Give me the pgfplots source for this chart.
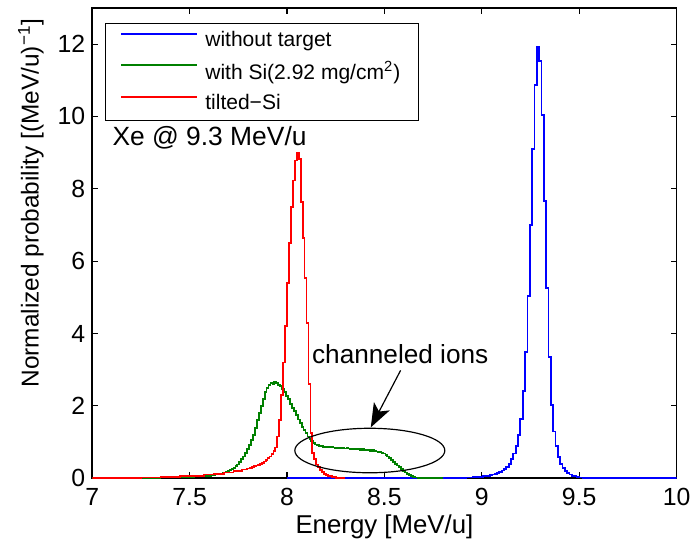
\documentclass[border=0pt]{standalone}
\usepackage{fontspec}
\setmainfont{Liberation Sans}
\usepackage{pgfplots}
\pgfplotsset{compat=1.18}
\usetikzlibrary{arrows.meta}
\definecolor{mblue}{rgb}{0,0,1}
\definecolor{mgreen}{rgb}{0,0.5,0}
\definecolor{mred}{rgb}{1,0,0}
\begin{document}
\begin{tikzpicture}
\begin{axis}[
  scale only axis, width=294.5pt, height=237pt,
  xmin=7, xmax=10, ymin=0, ymax=13,
  xtick={7,7.5,8,8.5,9,9.5,10}, ytick={0,2,4,6,8,10,12},
  tick align=inside, major tick length=3pt,
  axis line style={line width=0.8pt},
  every tick/.style={black, line width=0.6pt},
  /pgf/number format/assume math mode=true,
  ticklabel style={font=\fontsize{12.5}{14}\selectfont},
  xticklabel style={yshift=-1.5pt},
  xlabel={Energy [MeV/u]},
  ylabel={Normalized probability [(MeV/u)\textsuperscript{−1}]},
  xlabel style={font=\fontsize{13}{15}\selectfont, at={(axis description cs:0.5,-0.103)}, anchor=center},
  ylabel style={font=\fontsize{12.3}{14}\selectfont, at={(axis description cs:-0.105,0.585)}, anchor=center},
  legend style={at={(0.022,0.968)}, anchor=north west, draw=black, line width=0.6pt, fill=white,
    font=\fontsize{10.6}{12}\selectfont, inner xsep=7.5pt, inner ysep=2.5pt, row sep=3pt,
    nodes={inner xsep=1.8pt, inner ysep=1.5pt}},
  legend cell align=left,
  legend image code/.code={\path (0pt,0pt) (40pt,0pt); \draw[#1] (0pt,3.5pt) -- (38pt,3.5pt);},
]
\addplot[draw=mblue, line width=0.9pt, const plot mark mid] coordinates {
(8.000,0) (8.800,0) (8.850,0.005) (8.900,0.01) (8.940,0.02) (8.970,0.03) (9.000,0.04)
(9.012,0.05) (9.024,0.06) (9.036,0.07) (9.048,0.08) (9.060,0.10) (9.072,0.12) (9.084,0.14)
(9.096,0.17) (9.108,0.21) (9.120,0.26) (9.132,0.32) (9.144,0.40) (9.156,0.52) (9.168,0.68)
(9.180,0.90) (9.192,1.20) (9.204,1.64) (9.216,2.41) (9.228,3.48) (9.240,5.04) (9.252,7.00)
(9.264,9.10) (9.276,10.88) (9.288,11.93) (9.300,11.53) (9.312,10.05) (9.324,7.67) (9.336,5.26)
(9.348,3.34) (9.360,2.03) (9.372,1.29) (9.384,0.88) (9.396,0.58) (9.408,0.40) (9.420,0.28)
(9.432,0.20) (9.444,0.14) (9.456,0.10) (9.468,0.07) (9.480,0.05) (9.492,0.03) (9.504,0.02)
(9.530,0.01) (9.560,0.005) (9.600,0) (10.000,0)
};
\addlegendentry{without target}
\addplot[draw=mgreen, line width=0.9pt, const plot mark mid] coordinates {
(7.00,0) (7.10,0.005) (7.20,0.01) (7.30,0.015) (7.40,0.02) (7.45,0.03) (7.50,0.04) (7.55,0.05)
(7.60,0.07) (7.62,0.09) (7.64,0.11) (7.66,0.13) (7.68,0.16) (7.69,0.18) (7.70,0.20) (7.71,0.22)
(7.72,0.25) (7.73,0.28) (7.74,0.33) (7.75,0.38) (7.76,0.45) (7.77,0.52) (7.78,0.60) (7.79,0.70)
(7.80,0.80) (7.81,0.92) (7.82,1.05) (7.83,1.20) (7.84,1.38) (7.85,1.60) (7.86,1.80) (7.87,2.00)
(7.88,2.20) (7.89,2.38) (7.90,2.50) (7.91,2.58) (7.92,2.63) (7.93,2.61) (7.94,2.67) (7.95,2.64)
(7.96,2.58) (7.97,2.54) (7.98,2.47) (7.99,2.38) (8.00,2.28) (8.01,2.18) (8.02,2.05) (8.03,1.95)
(8.04,1.85) (8.05,1.74) (8.06,1.62) (8.07,1.52) (8.08,1.42) (8.09,1.34) (8.10,1.24) (8.11,1.15)
(8.12,1.08) (8.13,1.02) (8.14,0.97) (8.15,0.93) (8.16,0.92) (8.17,0.90) (8.18,0.88) (8.19,0.87)
(8.20,0.87) (8.21,0.86) (8.22,0.85) (8.23,0.86) (8.24,0.85) (8.25,0.84) (8.26,0.85) (8.27,0.84)
(8.28,0.83) (8.29,0.84) (8.30,0.82) (8.31,0.83) (8.32,0.82) (8.33,0.81) (8.34,0.82) (8.35,0.80)
(8.36,0.81) (8.37,0.80) (8.38,0.79) (8.39,0.80) (8.40,0.78) (8.41,0.79) (8.42,0.77) (8.43,0.76)
(8.44,0.77) (8.45,0.75) (8.46,0.74) (8.47,0.72) (8.48,0.72) (8.49,0.70) (8.50,0.68) (8.51,0.65)
(8.52,0.60) (8.53,0.55) (8.54,0.50) (8.55,0.45) (8.56,0.40) (8.57,0.35) (8.58,0.30) (8.59,0.25)
(8.60,0.20) (8.61,0.16) (8.62,0.12) (8.63,0.08) (8.64,0.05) (8.65,0.03) (8.66,0.02) (8.68,0.01)
(8.70,0.005) (8.80,0)
};
\addlegendentry{with Si(2.92 mg/cm\textsuperscript{2})}
\addplot[draw=mred, line width=0.9pt, const plot mark mid] coordinates {
(7.000,0) (7.100,0.005) (7.200,0.01) (7.300,0.02) (7.400,0.03) (7.500,0.05) (7.550,0.07)
(7.600,0.10) (7.650,0.12) (7.700,0.16) (7.750,0.20) (7.785,0.24) (7.805,0.27) (7.815,0.29)
(7.825,0.31) (7.835,0.33) (7.845,0.35) (7.855,0.37) (7.865,0.40) (7.875,0.43) (7.885,0.46)
(7.895,0.50) (7.905,0.55) (7.915,0.60) (7.925,0.66) (7.935,0.75) (7.945,0.85) (7.955,1.15)
(7.965,1.60) (7.975,2.30) (7.985,3.20) (7.995,4.20) (8.005,5.40) (8.015,6.50) (8.025,7.50)
(8.035,8.23) (8.045,8.78) (8.055,8.99) (8.065,8.82) (8.075,7.64) (8.085,6.63) (8.095,5.53)
(8.105,4.30) (8.115,2.60) (8.125,1.25) (8.135,0.70) (8.145,0.52) (8.155,0.38) (8.165,0.30)
(8.175,0.22) (8.185,0.17) (8.195,0.12) (8.205,0.09) (8.215,0.07) (8.225,0.05) (8.240,0.03)
(8.260,0.01) (8.300,0)
};
\addlegendentry{tilted−Si}
\draw[line width=0.6pt] (axis cs:8.425,0.765) ellipse [x radius=0.385, y radius=0.615];
\draw[line width=0.6pt, -{Stealth[length=12pt,width=9pt,inset=3pt]}] (axis cs:8.583,2.98) -- (axis cs:8.43,1.405);
\node[anchor=base, inner sep=0pt, font=\fontsize{13.2}{15}\selectfont] at (axis cs:8.581,3.16) {channeled ions};
\node[anchor=base west, inner sep=0pt, font=\fontsize{13.3}{15}\selectfont] at (axis cs:7.102,9.21) {Xe @ 9.3 MeV/u};
\end{axis}
\path ([xshift=-46.5pt,yshift=-33.5pt]current axis.south west) rectangle ([xshift=7.5pt,yshift=4pt]current axis.north east);
\end{tikzpicture}
\end{document}
